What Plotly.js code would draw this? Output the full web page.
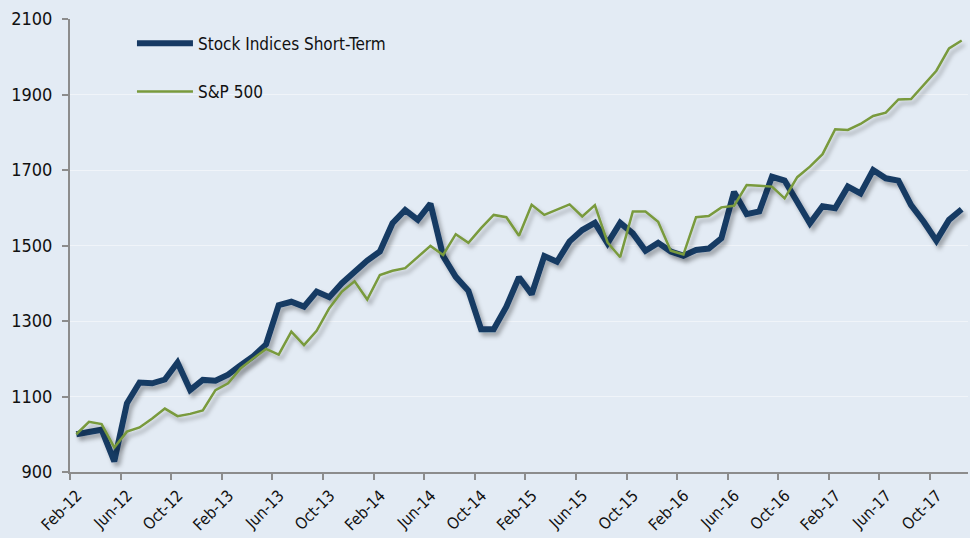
<!DOCTYPE html>
<html>
<head>
<meta charset="utf-8">
<script src="https://cdn.plot.ly/plotly-3.0.1.min.js"></script>
<style>
  html, body { margin: 0; padding: 0; background: #e3ebf4; }
  #chart { width: 970px; height: 538px; }
  .scatterlayer .js-line { filter: url(#shadow); }
</style>
</head>
<body>
<svg width="0" height="0" style="position:absolute">
  <defs>
    <filter id="shadow" x="-5%" y="-5%" width="110%" height="120%">
      <feDropShadow dx="3" dy="4" stdDeviation="2.2" flood-color="#000" flood-opacity="0.3"/>
    </filter>
  </defs>
</svg>
<div id="chart"></div>
<script>
const months = [
  "Feb-12","Mar-12","Apr-12","May-12","Jun-12","Jul-12","Aug-12","Sep-12","Oct-12","Nov-12","Dec-12",
  "Jan-13","Feb-13","Mar-13","Apr-13","May-13","Jun-13","Jul-13","Aug-13","Sep-13","Oct-13","Nov-13","Dec-13",
  "Jan-14","Feb-14","Mar-14","Apr-14","May-14","Jun-14","Jul-14","Aug-14","Sep-14","Oct-14","Nov-14","Dec-14",
  "Jan-15","Feb-15","Mar-15","Apr-15","May-15","Jun-15","Jul-15","Aug-15","Sep-15","Oct-15","Nov-15","Dec-15",
  "Jan-16","Feb-16","Mar-16","Apr-16","May-16","Jun-16","Jul-16","Aug-16","Sep-16","Oct-16","Nov-16","Dec-16",
  "Jan-17","Feb-17","Mar-17","Apr-17","May-17","Jun-17","Jul-17","Aug-17","Sep-17","Oct-17","Nov-17","Dec-17"
];

const stockIndicesShortTerm = [
  1000, 1004, 1012, 928, 1082, 1137, 1135, 1145, 1190, 1117, 1144,
  1142, 1158, 1183, 1207, 1238, 1342, 1351, 1338, 1378, 1363, 1400, 1431,
  1460, 1484, 1559, 1594, 1568, 1611, 1472, 1417, 1380, 1278, 1278, 1338,
  1416, 1371, 1472, 1457, 1511, 1541, 1560, 1506, 1560, 1532, 1486, 1507,
  1484, 1473, 1488, 1492, 1519, 1642, 1583, 1590, 1682, 1672, 1619, 1559,
  1604, 1599, 1656, 1638, 1700, 1678, 1672, 1607, 1563, 1513, 1568, 1596
];

const sp500 = [
  1000, 1033, 1027, 965, 1007, 1018, 1042, 1068, 1048, 1054, 1063,
  1117, 1135, 1175, 1201, 1226, 1211, 1272, 1236, 1274, 1334, 1378, 1405,
  1357, 1422, 1433, 1440, 1470, 1499, 1475, 1530, 1507, 1546, 1581, 1575,
  1526, 1608, 1581, 1594, 1609, 1577, 1607, 1508, 1469, 1590, 1590, 1563,
  1486, 1476, 1575, 1578, 1601, 1605, 1660, 1658, 1656, 1625, 1681, 1709,
  1742, 1808, 1806, 1822, 1843, 1852, 1887, 1888, 1925, 1963, 2022, 2043
];

const tickLabels = ["Feb-12","Jun-12","Oct-12","Feb-13","Jun-13","Oct-13","Feb-14","Jun-14","Oct-14",
  "Feb-15","Jun-15","Oct-15","Feb-16","Jun-16","Oct-16","Feb-17","Jun-17","Oct-17"];
const yTicks = [900, 1100, 1300, 1500, 1700, 1900, 2100];

const xIdx = months.map((m, i) => i);
const tickPos = tickLabels.map(l => months.indexOf(l) - 0.5);

const FONT = '"DejaVu Sans Condensed", "Liberation Sans", Arial, sans-serif';

const traces = [
  {
    x: xIdx, y: stockIndicesShortTerm, text: months, name: "Stock Indices Short-Term",
    type: "scatter", mode: "lines", legendgroup: "a",
    line: { color: "#173a64", width: 6, shape: "linear" },
    hovertemplate: "%{text}: %{y}<extra></extra>"
  },
  {
    x: xIdx, y: sp500, text: months, name: "S&P 500",
    type: "scatter", mode: "lines", legendgroup: "b",
    line: { color: "#799a3c", width: 2.5, shape: "linear" },
    hovertemplate: "%{text}: %{y}<extra></extra>"
  }
];

const layout = {
  width: 970, height: 538,
  margin: { l: 70, r: 2, t: 19, b: 66 },
  paper_bgcolor: "#e3ebf4",
  plot_bgcolor: "#e3ebf4",
  font: { family: FONT, size: 17, color: "#111" },
  showlegend: true,
  legend: {
    x: 0.069, y: 0.985, xanchor: "left", yanchor: "top",
    bgcolor: "rgba(0,0,0,0)", borderwidth: 0,
    font: { family: FONT, size: 17, color: "#111" },
    traceorder: "grouped", tracegroupgap: 23,
    itemwidth: 56
  },
  xaxis: {
    range: [-0.5, 70.5],
    tickmode: "array", tickvals: tickPos, ticktext: tickLabels,
    tickangle: -45,
    ticks: "outside", ticklen: 6, tickwidth: 2, tickcolor: "#8c8c8c",
    showline: true, linecolor: "#8c8c8c", linewidth: 2,
    showgrid: false, zeroline: false,
    ticklabelshift: 7, ticklabelstandoff: 0,
    tickfont: { family: FONT, size: 16, color: "#111" }
  },
  yaxis: {
    range: [900, 2100],
    tickmode: "array", tickvals: yTicks,
    ticks: "outside", ticklen: 6, tickwidth: 2, tickcolor: "#8c8c8c",
    showline: true, linecolor: "#8c8c8c", linewidth: 2,
    showgrid: true, gridcolor: "rgba(255,255,255,0.45)", gridwidth: 1,
    zeroline: false, ticklabelstandoff: 6,
    tickfont: { family: FONT, size: 18, color: "#111" }
  }
};

Plotly.newPlot("chart", traces, layout, { displayModeBar: false, staticPlot: true });
</script>
</body>
</html>
